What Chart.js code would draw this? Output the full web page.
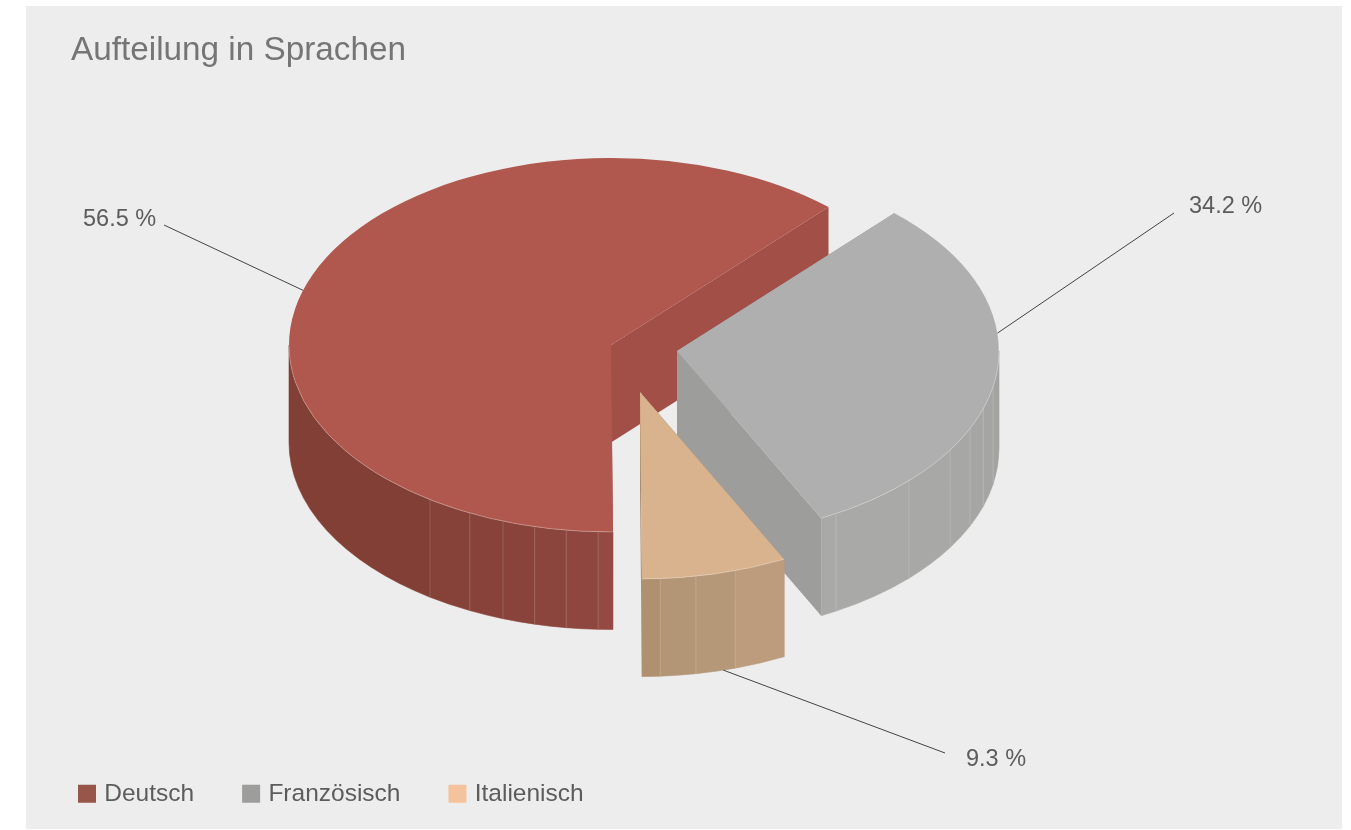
<!DOCTYPE html>
<html lang="de">
<head>
<meta charset="utf-8">
<title>Aufteilung in Sprachen</title>
<script src="https://cdn.jsdelivr.net/npm/chart.js@4"></script>
<style>
html,body{margin:0;padding:0;background:#fff;overflow:hidden}
#wrap{position:absolute;left:0;top:0;width:1351px;height:830px}
</style>
</head>
<body>
<div id="wrap"><canvas id="c" width="1351" height="830"></canvas></div>
<script>
const titleText = 'Aufteilung in Sprachen';
const categories = ['Deutsch', 'Französisch', 'Italienisch'];
const shares = [56.5, 34.2, 9.3];
const shareLabels = shares.map(v => v.toFixed(1) + ' %');

const legendColors = ['#985549', '#9d9d9b', '#f4c29c'];
const topColors = ['#b0574e', '#afafaf', '#d9b28e'];
const radialWallColors = ['#a24f48', '#9d9d9b', '#a98d6d'];
// The reference is drawn in perspective: each slice's visible sweep is its share times this factor.
const sweepFactors = [1.0956, 0.9008, 0.784];
// Exploded offset of each slice from the pie's origin.
const sliceOffsetX = [0, 66, 29];
const sliceOffsetY = [0, 6, 47];
// Wall facets: canvas degrees where a facet line falls, and each facet's shade.
const facetBreaks = [
  [89.65, 92.3, 98, 103.7, 109.6, 116, 124.2, 180],
  [0, 11, 18, 24.5, 32, 43.9, 60.4, 63.4],
  [63.4, 72.8, 80, 86.4, 89.65]
];
const facetColors = [
  ['#944a42', '#8e463e', '#8c453d', '#8a433b', '#88423a', '#864138', '#813f36'],
  ['#a3a3a1', '#a5a5a3', '#a6a6a4', '#a7a7a5', '#a8a8a6', '#a9a9a7', '#a9a9a7'],
  ['#bd9c7e', '#b59878', '#b39676', '#b0916f']
];
// Leader lines: canvas angle on the rim, whether it starts at the wall foot, label end and text position.
const leaderAngles = [197, -5.5, 75];
const leaderOnFoot = [false, false, true];
const leaderEndX = [164, 1174, 945];
const leaderEndY = [225, 213, 753];
const labelX = [83, 1189, 966];
const labelY = [220, 207, 760];

const pieX = 611, pieY = 345, radiusX = 322, radiusY = 187, depth = 97.5;

const pie3d = {
  id: 'pie3d',
  beforeDraw(chart) {
    const c = chart.ctx;
    c.save();
    c.fillStyle = '#ededed';
    c.fillRect(26, 6, 1316, 823);
    c.restore();
  },
  afterLayout(chart) {
    chart.titleBlock.left = 71;
  },
  beforeDatasetsDraw(chart) {
    const c = chart.ctx;
    const arcs = chart.getDatasetMeta(0).data;
    const total = arcs.reduce((s, a, i) => s + (a.endAngle - a.startAngle) * sweepFactors[i], 0);
    let cursor = arcs[0].startAngle;
    c.save();
    arcs.forEach((arc, i) => {
      const a0 = cursor;
      const a1 = a0 + (arc.endAngle - arc.startAngle) * sweepFactors[i] * (2 * Math.PI / total);
      cursor = a1;
      const cx = pieX + sliceOffsetX[i], cy = pieY + sliceOffsetY[i];
      const px = a => cx + radiusX * Math.cos(a), py = a => cy + radiusY * Math.sin(a);

      // radial walls
      [a0, a1].forEach(a => {
        c.beginPath();
        c.moveTo(cx, cy);
        c.lineTo(px(a), py(a));
        c.lineTo(px(a), py(a) + depth);
        c.lineTo(cx, cy + depth);
        c.closePath();
        c.fillStyle = radialWallColors[i];
        c.fill();
      });

      // rim wall facets
      const br = facetBreaks[i].map(d => d * Math.PI / 180);
      for (let k = 0; k < br.length - 1; k++) {
        c.beginPath();
        c.ellipse(cx, cy, radiusX, radiusY, 0, br[k], br[k + 1]);
        c.ellipse(cx, cy + depth, radiusX, radiusY, 0, br[k + 1], br[k], true);
        c.closePath();
        c.fillStyle = facetColors[i][k];
        c.strokeStyle = facetColors[i][k];
        c.lineWidth = 0.6;
        c.fill();
        c.stroke();
      }
      c.strokeStyle = 'rgba(255,255,255,0.16)';
      c.lineWidth = 1;
      for (let k = 1; k < br.length - 1; k++) {
        c.beginPath();
        c.moveTo(px(br[k]), py(br[k]));
        c.lineTo(px(br[k]), py(br[k]) + depth);
        c.stroke();
      }

      // top face
      c.beginPath();
      c.moveTo(cx, cy);
      c.ellipse(cx, cy, radiusX, radiusY, 0, a0, a1);
      c.closePath();
      c.fillStyle = topColors[i];
      c.fill();
      c.beginPath();
      c.ellipse(cx, cy, radiusX, radiusY, 0, Math.max(a0, br[0]), Math.min(a1, br[br.length - 1]));
      c.strokeStyle = 'rgba(255,255,255,0.3)';
      c.lineWidth = 1;
      c.stroke();
    });

    // leader lines and value labels
    c.font = '23.5px "Liberation Sans"';
    c.textBaseline = 'middle';
    arcs.forEach((arc, i) => {
      const a = leaderAngles[i] * Math.PI / 180;
      const cx = pieX + sliceOffsetX[i], cy = pieY + sliceOffsetY[i];
      c.beginPath();
      c.moveTo(cx + radiusX * Math.cos(a), cy + radiusY * Math.sin(a) + (leaderOnFoot[i] ? depth : 0));
      c.lineTo(leaderEndX[i], leaderEndY[i]);
      c.strokeStyle = '#444';
      c.lineWidth = 1;
      c.stroke();
      c.fillStyle = '#5c5c5c';
      c.fillText(shareLabels[i], labelX[i], labelY[i]);
    });
    c.restore();
    return false;
  }
};

new Chart(document.getElementById('c'), {
  type: 'pie',
  data: {
    labels: categories,
    datasets: [{ data: shares, backgroundColor: topColors, borderWidth: 0 }]
  },
  options: {
    responsive: false,
    animation: false,
    events: [],
    rotation: 179.65,
    layout: { padding: { left: 30, right: 0, top: 0, bottom: 14 } },
    plugins: {
      tooltip: { enabled: false },
      title: {
        display: true,
        text: titleText,
        align: 'start',
        color: '#757575',
        font: { family: '"Liberation Sans"', size: 33.3, weight: 'normal' },
        padding: { top: 31, bottom: 10 }
      },
      legend: {
        display: true,
        position: 'bottom',
        align: 'start',
        labels: {
          font: { family: '"Liberation Sans"', size: 24.5 },
          color: '#5c5c5c',
          boxWidth: 10,
          boxHeight: 10,
          padding: 52,
          generateLabels: () => categories.map((t, i) => ({
            text: t,
            fillStyle: legendColors[i],
            strokeStyle: legendColors[i],
            lineWidth: 8,
            fontColor: '#5c5c5c',
            hidden: false,
            index: i
          }))
        }
      }
    }
  },
  plugins: [pie3d]
});
</script>
</body>
</html>
